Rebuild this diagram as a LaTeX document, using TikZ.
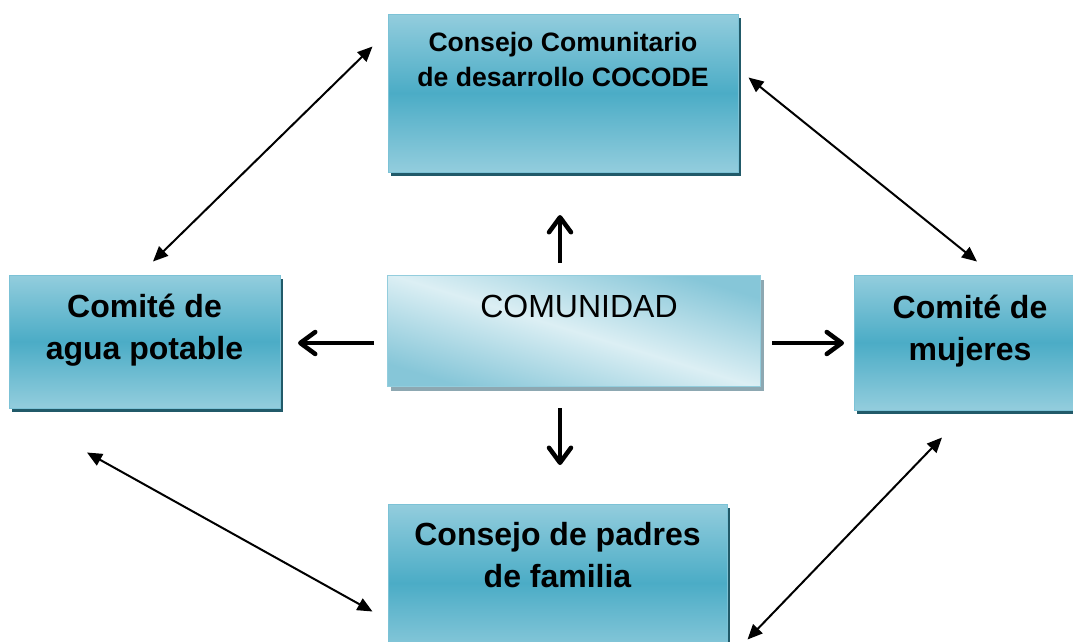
\documentclass[tikz,border=0pt]{standalone}
\usepackage{fontspec}
\setmainfont{Liberation Sans}
\usetikzlibrary{arrows.meta,shadows}

\definecolor{cajaClaro}{HTML}{93CDDD}
\definecolor{cajaOscuro}{HTML}{4BACC6}
\definecolor{cajaBorde}{HTML}{7CC2D6}
\definecolor{cajaSombra}{HTML}{215A69}
\definecolor{centroClaro}{HTML}{DCEFF4}
\definecolor{centroOscuro}{HTML}{86C6D8}
\definecolor{centroBorde}{HTML}{93CDDD}
\definecolor{centroSombra}{HTML}{8DA8B2}

\begin{document}
\begin{tikzpicture}[x=1pt, y=1pt,
	caja/.style={draw=cajaBorde, line width=1pt, rectangle, inner sep=0pt, top color=cajaClaro, bottom color=cajaClaro, middle color=cajaOscuro, drop shadow={shadow xshift=3pt, shadow yshift=-4pt, fill=cajaSombra, opacity=1}},
	texto/.style={align=center, inner sep=0pt, anchor=north, font=\fontsize{32}{42}\selectfont\bfseries},
	doble/.style={{Triangle[length=15pt,width=13pt]}-{Triangle[length=15pt,width=13pt]}, line width=2pt},
	flecha/.style={-{Straight Barb[length=15pt,width=22pt,round]}, line width=4.5pt}]
				\useasboundingbox (0,0) rectangle (1073,-641);
				\node[caja, minimum width=350pt, minimum height=158pt, label={[texto, font=\fontsize{26.6}{35}\selectfont\bfseries, yshift=-19pt]north:{Consejo Comunitario\\de desarrollo COCODE}}] (cocode)at(563,-93) {};
				\node[caja, minimum width=271pt, minimum height=133pt, label={[texto, yshift=-19pt]north:{Comité de\\agua potable}}] (agua)at(144.5,-341.5) {};
				\node[caja, minimum width=232pt, minimum height=135pt, label={[texto, yshift=-20pt]north:{Comité de\\mujeres}}] (mujeres)at(970,-342.5) {};
				\node[caja, minimum width=339pt, minimum height=158pt, label={[texto, yshift=-19pt]north:{Consejo de padres\\de familia}}] (padres)at(557.5,-583) {};
				\node[draw=centroBorde, line width=1pt, rectangle, minimum width=373pt, minimum height=111pt, top color=centroOscuro, bottom color=centroOscuro, middle color=centroClaro, shading angle=-17, drop shadow={shadow xshift=3pt, shadow yshift=-4pt, fill=centroSombra, opacity=1}, label={[texto, font=\fontsize{32}{42}\selectfont, yshift=-20pt, xshift=5pt]north:COMUNIDAD}] (comunidad)at(574,-331) {};
				\draw[doble] ([shift={(8.5,13)}]agua.north) -- ([shift={(-15,-33)}]cocode.north west);
				\draw[doble] ([shift={(10,-64)}]cocode.north east) -- ([shift={(7,13)}]mujeres.north);
				\draw[doble] ([shift={(-57.5,-44)}]agua.south) -- ([shift={(-15,-108)}]padres.north west);
				\draw[doble] ([shift={(-28,-27)}]mujeres.south) -- ([shift={(20,-136)}]padres.north east);
				\draw[flecha] ([shift={(-14,12)}]comunidad.north) -- ++(0,48);
				\draw[flecha] ([shift={(-14,-21)}]comunidad.south) -- ++(0,-57);
				\draw[flecha] ([shift={(-13,-12)}]comunidad.west) -- ++(-76,0);
				\draw[flecha] ([shift={(11,-12)}]comunidad.east) -- ++(72,0);
			\end{tikzpicture}
\end{document}
